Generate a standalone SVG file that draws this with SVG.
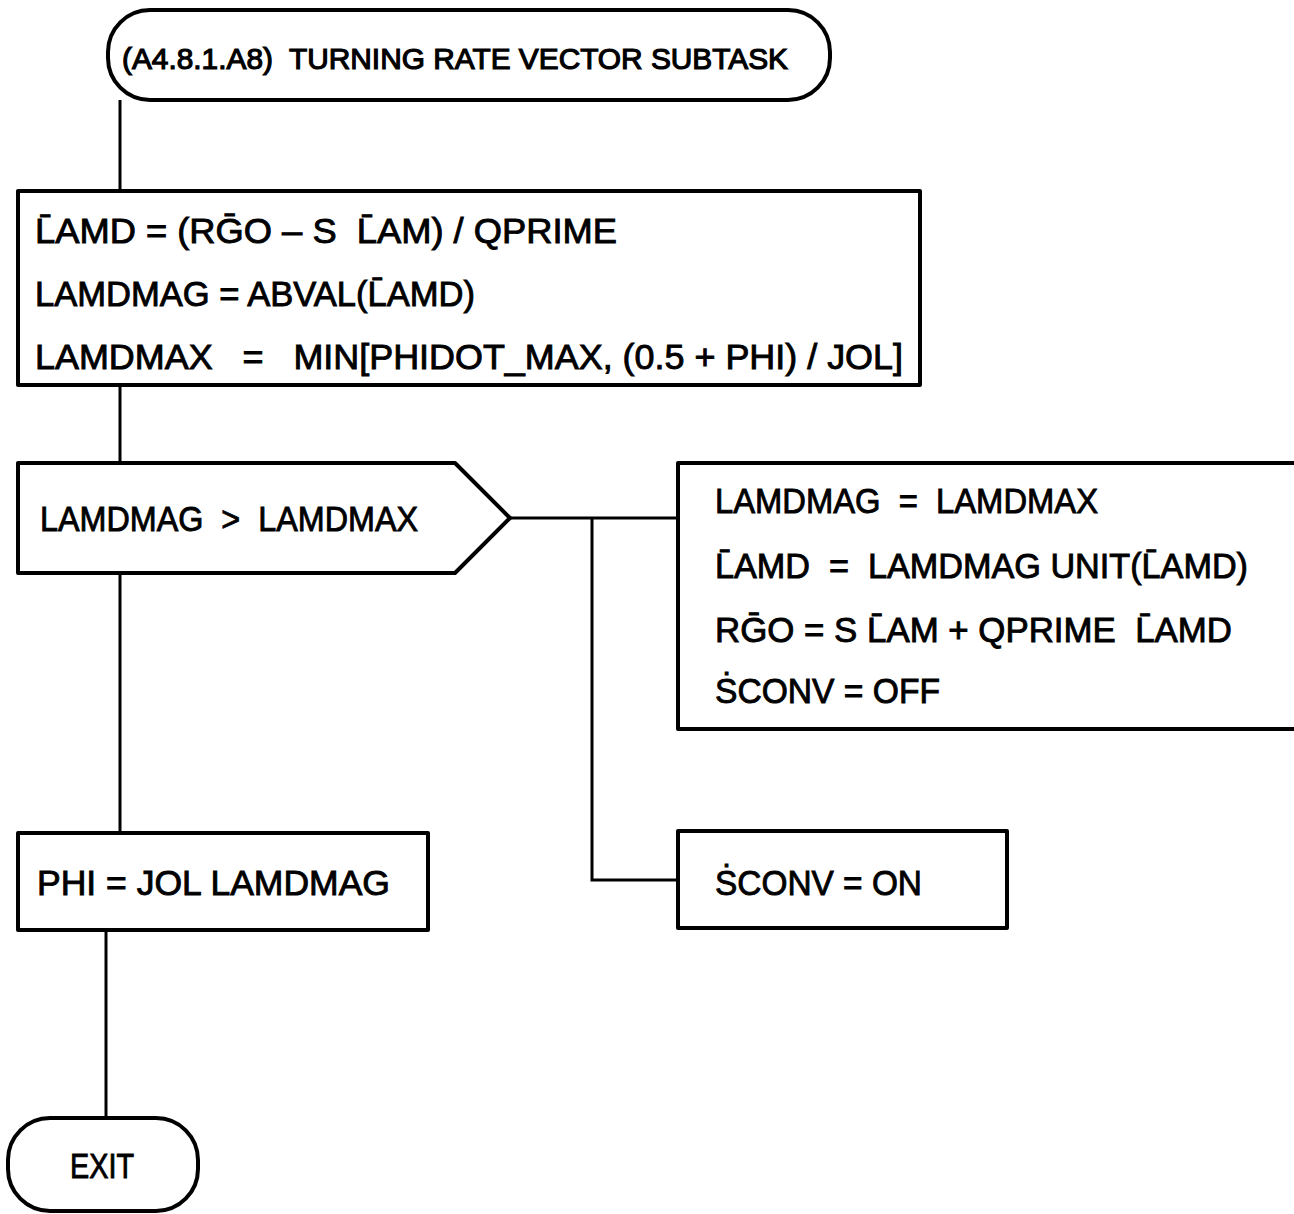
<svg xmlns="http://www.w3.org/2000/svg" width="1294" height="1214" viewBox="0 0 1294 1214">
<style>
.bg{fill:#fff}
.node{fill:#fff;stroke:#000;stroke-width:4;stroke-linejoin:round}
.conn{fill:none;stroke:#000;stroke-width:3}
text{font-family:"Liberation Sans",Arial,Helvetica,sans-serif;fill:#000;stroke:#000;stroke-width:0.9;white-space:pre}
.t{font-size:30px;stroke-width:1.2}
.b{font-size:35px}
</style>
<rect class="bg" x="0" y="0" width="1294" height="1214"/>
<g id="connectors">
<line class="conn" x1="120" y1="100" x2="120" y2="192"/>
<line class="conn" x1="120" y1="385" x2="120" y2="463"/>
<line class="conn" x1="120" y1="573" x2="120" y2="833"/>
<line class="conn" x1="106" y1="930" x2="106" y2="1118"/>
<polyline class="conn" points="510,518 678,518"/>
<polyline class="conn" points="592,518 592,880 678,880"/>
</g>
<g id="start">
<rect class="node" x="108" y="10" width="722" height="90" rx="42" ry="42"/>
<text class="t" x="122" y="69" textLength="666" lengthAdjust="spacingAndGlyphs" xml:space="preserve">(A4.8.1.A8)  TURNING RATE VECTOR SUBTASK</text>
</g>
<g id="compute">
<rect class="node" x="18" y="191" width="902" height="194"/>
<text class="b" x="35" y="243" textLength="582" lengthAdjust="spacingAndGlyphs" xml:space="preserve">L&#x304;AMD = (RG&#x304;O – S  L&#x304;AM) / QPRIME</text>
<text class="b" x="35" y="306" textLength="440" lengthAdjust="spacingAndGlyphs" xml:space="preserve">LAMDMAG = ABVAL(L&#x304;AMD)</text>
<text class="b" x="35" y="369" textLength="868" lengthAdjust="spacingAndGlyphs" xml:space="preserve">LAMDMAX   =   MIN[PHIDOT_MAX, (0.5 + PHI) / JOL]</text>
</g>
<g id="decision">
<polygon class="node" points="18,463 455,463 510,518 455,573 18,573"/>
<text class="b" x="40" y="531" textLength="378" lengthAdjust="spacingAndGlyphs" xml:space="preserve">LAMDMAG  &gt;  LAMDMAX</text>
</g>
<g id="limit">
<rect class="node" x="678" y="463" width="630" height="266"/>
<text class="b" x="715" y="513" textLength="383" lengthAdjust="spacingAndGlyphs" xml:space="preserve">LAMDMAG  =  LAMDMAX</text>
<text class="b" x="715" y="578" textLength="533" lengthAdjust="spacingAndGlyphs" xml:space="preserve">L&#x304;AMD  =  LAMDMAG UNIT(L&#x304;AMD)</text>
<text class="b" x="715" y="642" textLength="517" lengthAdjust="spacingAndGlyphs" xml:space="preserve">RG&#x304;O = S L&#x304;AM + QPRIME  L&#x304;AMD</text>
<text class="b" x="715" y="703" textLength="225" lengthAdjust="spacingAndGlyphs" xml:space="preserve">&#x1E60;CONV = OFF</text>
</g>
<g id="phi">
<rect class="node" x="18" y="833" width="410" height="97"/>
<text class="b" x="37" y="895" textLength="353" lengthAdjust="spacingAndGlyphs" xml:space="preserve">PHI = JOL LAMDMAG</text>
</g>
<g id="sconv-on">
<rect class="node" x="678" y="831" width="329" height="97"/>
<text class="b" x="715" y="895" textLength="207" lengthAdjust="spacingAndGlyphs" xml:space="preserve">&#x1E60;CONV = ON</text>
</g>
<g id="exit">
<rect class="node" x="8" y="1118" width="190" height="93" rx="42" ry="42"/>
<text class="b" x="70" y="1178" textLength="64" lengthAdjust="spacingAndGlyphs">EXIT</text>
</g>
</svg>
